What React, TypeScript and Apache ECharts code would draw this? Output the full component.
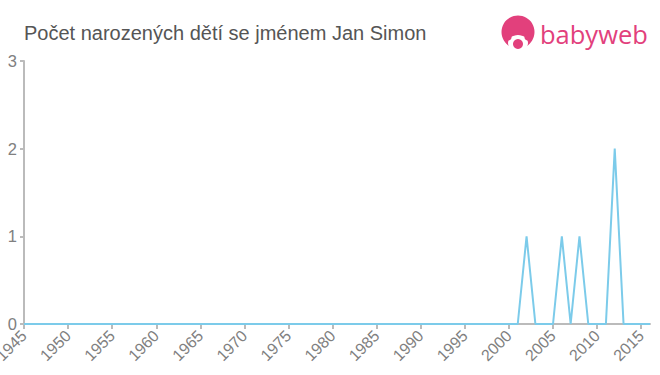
import React, { useEffect, useRef } from "react";
import * as echarts from "echarts";

const title = "Počet narozených dětí se jménem Jan Simon";
const years = [
  1945, 1946, 1947, 1948, 1949, 1950, 1951, 1952, 1953, 1954,
  1955, 1956, 1957, 1958, 1959, 1960, 1961, 1962, 1963, 1964,
  1965, 1966, 1967, 1968, 1969, 1970, 1971, 1972, 1973, 1974,
  1975, 1976, 1977, 1978, 1979, 1980, 1981, 1982, 1983, 1984,
  1985, 1986, 1987, 1988, 1989, 1990, 1991, 1992, 1993, 1994,
  1995, 1996, 1997, 1998, 1999, 2000, 2001, 2002, 2003, 2004,
  2005, 2006, 2007, 2008, 2009, 2010, 2011, 2012, 2013, 2014,
  2015, 2016,
];
const counts = [
  0, 0, 0, 0, 0, 0, 0, 0, 0, 0,
  0, 0, 0, 0, 0, 0, 0, 0, 0, 0,
  0, 0, 0, 0, 0, 0, 0, 0, 0, 0,
  0, 0, 0, 0, 0, 0, 0, 0, 0, 0,
  0, 0, 0, 0, 0, 0, 0, 0, 0, 0,
  0, 0, 0, 0, 0, 0, 0, 1, 0, 0,
  0, 1, 0, 1, 0, 0, 0, 2, 0, 0,
  0, 0,
];
const yTicks = [0, 1, 2, 3];

export default function App() {
  const ref = useRef<HTMLDivElement>(null);
  useEffect(() => {
    if (!ref.current) return;
    const chart = echarts.init(ref.current, null, { renderer: "svg" });
    const axisColor = "#bbbbbb";
    const labelColor = "#808080";
    const pink = "#e2407c";
    chart.setOption({
      animation: false,
      backgroundColor: "#ffffff",
      title: {
        text: title,
        left: 19,
        top: 18,
        textStyle: {
          color: "#555555",
          fontSize: 20,
          fontWeight: "normal",
          fontFamily: "Liberation Sans, Arial, sans-serif",
        },
      },
      graphic: [
        { type: "circle", shape: { cx: 518, cy: 32, r: 16.5 }, style: { fill: pink } },
        { type: "ellipse", shape: { cx: 518, cy: 43, rx: 10, ry: 8 }, style: { fill: "#ffffff" } },
        { type: "circle", shape: { cx: 508.5, cy: 37.5, r: 3 }, style: { fill: pink } },
        { type: "circle", shape: { cx: 527.5, cy: 37.5, r: 3 }, style: { fill: pink } },
        { type: "circle", shape: { cx: 518, cy: 44, r: 5 }, style: { fill: pink } },
        {
          type: "text",
          x: 540,
          y: 34,
          style: {
            text: "babyweb",
            fill: pink,
            fontSize: 25.5,
            verticalAlign: "middle",
            fontFamily: "Open Sans, Arial, sans-serif",
            fontWeight: "normal",
          },
        },
      ],
      grid: { left: 24, right: 10, top: 61, bottom: 51, containLabel: false, outerBoundsMode: "none" },
      xAxis: {
        type: "value",
        min: 1945,
        max: 2016,
        interval: 5,
        axisLine: { show: true, lineStyle: { color: axisColor, width: 2 } },
        axisTick: { show: true, length: 5, lineStyle: { color: axisColor, width: 2 } },
        splitLine: { show: false },
        axisLabel: {
          rotate: 45,
          color: labelColor,
          fontSize: 16,
          margin: 9,
          showMaxLabel: false,
          hideOverlap: false,
          fontFamily: "Liberation Sans, Arial, sans-serif",
          formatter: (v: number) => String(v),
        },
      },
      yAxis: {
        type: "value",
        min: 0,
        max: 3,
        interval: 1,
        axisLine: { show: true, lineStyle: { color: axisColor, width: 2 } },
        axisTick: { show: true, length: 4, lineStyle: { color: axisColor, width: 2 } },
        splitLine: { show: false },
        axisLabel: {
          color: labelColor,
          fontSize: 16.5,
          margin: 7,
          fontFamily: "Liberation Sans, Arial, sans-serif",
          formatter: (v: number) => (yTicks.includes(v) ? String(v) : ""),
        },
      },
      series: [
        {
          type: "line",
          data: years.map((y, i) => [y, counts[i]]),
          showSymbol: false,
          symbol: "none",
          lineStyle: { color: "#7ccbea", width: 2 },
          z: 3,
        },
      ],
    });
    return () => chart.dispose();
  }, []);
  return <div ref={ref} style={{ width: 660, height: 375, position: "absolute", left: 0, top: 0 }} />;
}
